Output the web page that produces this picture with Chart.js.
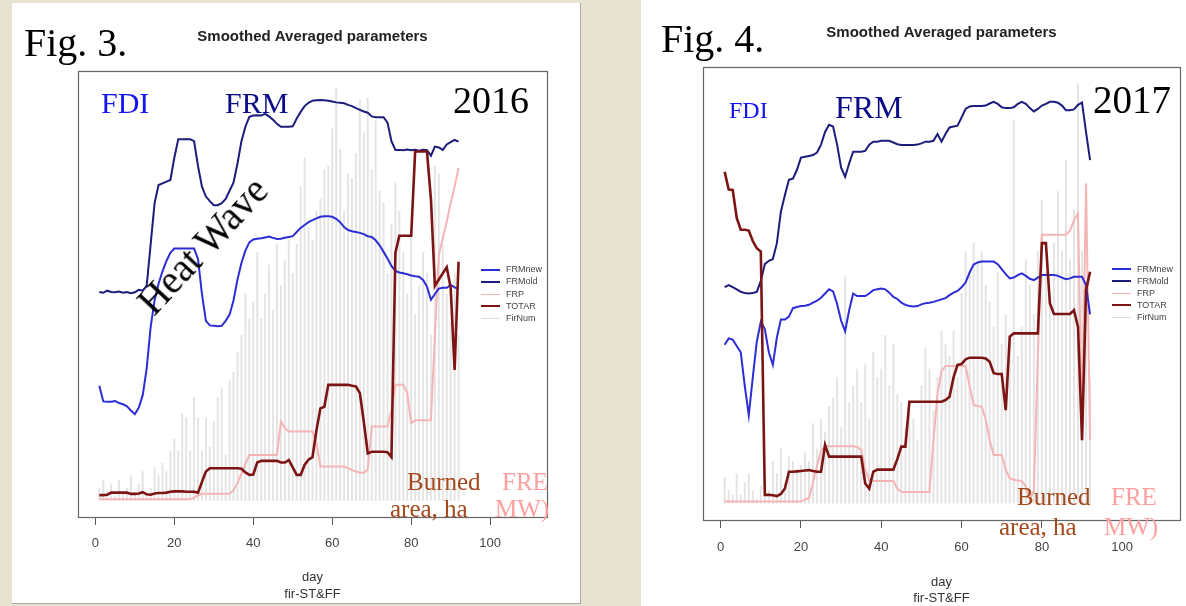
<!DOCTYPE html>
<html><head><meta charset="utf-8">
<script src="https://cdn.jsdelivr.net/npm/chart.js@4.4.1/dist/chart.umd.min.js"></script>
<style>
html,body{margin:0;padding:0;}
body{width:1186px;height:606px;background:#e6e4d0;position:relative;overflow:hidden;}
.panel{position:absolute;background:#fff;}
#p1{left:12px;top:3px;width:568px;height:600px;border-right:1px solid #aaa;border-bottom:1px solid #aaa;}
#p2{left:641px;top:0;width:545px;height:606px;}
.panel canvas{position:absolute;left:0;top:0;}
.t{position:absolute;font-family:'Liberation Serif','Times New Roman',serif;line-height:1;white-space:nowrap;}
.lg{position:absolute;font-family:'Liberation Sans',Arial,sans-serif;font-size:9px;line-height:10px;color:#444;white-space:nowrap;}
.lg span{display:inline-block;width:19px;vertical-align:middle;margin-right:6px;}
</style>
</head><body>
<div class="panel" id="p1"><canvas id="c1" width="568" height="600"></canvas></div>
<div class="panel" id="p2"><canvas id="c2" width="545" height="606"></canvas></div>

<div class="t" style="left:24px;top:23px;font-size:40px;color:#000;">Fig. 3.</div>
<div class="t" style="left:101px;top:88px;font-size:30px;color:#1414f0;">FDI</div>
<div class="t" style="left:225px;top:88px;font-size:30px;color:#0c0c88;">FRM</div>
<div class="t" style="left:453px;top:81px;font-size:38px;color:#000;">2016</div>
<div class="t" style="left:117px;top:226px;font-size:39px;color:#000;transform:rotate(-47deg);transform-origin:50% 50%;">Heat Wave</div>
<div class="t" style="left:407px;top:469px;font-size:25px;color:#a5481b;">Burned</div>
<div class="t" style="left:390px;top:496px;font-size:25px;color:#a5481b;">area, ha</div>
<div class="t" style="left:502px;top:469px;font-size:25px;color:#ffa0a0;">FRE</div>
<div class="t" style="left:495px;top:496px;font-size:25px;color:#ffa0a0;">MW)</div>

<div class="t" style="left:661px;top:19px;font-size:40px;color:#000;">Fig. 4.</div>
<div class="t" style="left:729px;top:98px;font-size:24px;color:#1414f0;">FDI</div>
<div class="t" style="left:835px;top:91px;font-size:32px;color:#0c0c88;">FRM</div>
<div class="t" style="left:1093px;top:80px;font-size:39px;color:#000;">2017</div>
<div class="t" style="left:1017px;top:484px;font-size:25px;color:#a5481b;">Burned</div>
<div class="t" style="left:999px;top:514px;font-size:25px;color:#a5481b;">area, ha</div>
<div class="t" style="left:1111px;top:484px;font-size:25px;color:#ffa0a0;">FRE</div>
<div class="t" style="left:1104px;top:514px;font-size:25px;color:#ffa0a0;">MW)</div>

<script>
// ---------- data ----------
const days = Array.from({length: 92}, (_, i) => i + 1);
const xTicks = [0, 20, 40, 60, 80, 100];
const seriesNames = ['FRMnew', 'FRMold', 'FRP', 'TOTAR', 'FirNum'];

// Fig. 3 (2016)
const frmNew2016 = [27.8,24.0,23.9,23.9,24.1,23.6,23.3,22.8,21.8,20.9,22.5,25.5,32,42,48.5,52.5,55.5,58,60,61,
 61,61,61,61,61,58.5,50,43.5,42.4,42.3,42.2,42.3,43.5,45,48.5,53.5,57.5,60.5,62.5,63.2,
 63.4,63.5,63.7,63.9,63.6,63.3,63.4,63.6,63.8,64.0,65.0,66.0,66.7,67.4,67.9,68.3,68.7,68.8,68.8,68.7,
 68.2,67.4,66.2,65.5,65.2,65.0,64.8,64.5,64.0,63.8,63.0,61.8,60.2,58.6,56.8,55.6,55.2,55.0,54.8,54.5,
 54.3,54.2,53.4,51.8,48.6,50.0,51.3,51.5,51.5,52.2,51.6,51.2];
const frmOld2016 = [50.5,50.3,50.8,50.5,50.4,50.6,50.3,50.5,50.2,50.4,51.0,50.8,52,62,72,76.4,76.8,77.2,77.6,83,
 87.5,87.5,87.5,87.5,87.0,81,76,73.6,72.5,71.5,71.5,72,73,75,77,81.6,87,90.5,92.9,93.2,
 93.3,93.2,93.6,93.0,92.2,91.2,90.5,90.5,90.5,90.6,92.5,94.1,95.5,96.3,96.8,96.9,97.0,96.9,96.8,96.6,
 96.4,96.3,96.2,95.8,95.5,95.0,94.6,94.2,93.9,93.0,92.8,92.8,92.8,91.5,87,84.9,84.9,84.8,85.0,84.8,
 84.9,84.7,84.9,84.8,83.5,85.7,85.5,84.9,86.2,86.8,87.3,86.9];
const frp2016 = [0.3,0.3,0.3,0.3,0.3,0.3,0.3,0.3,0.3,0.3,0.3,0.3,0.3,0.3,0.3,0.3,0.3,0.3,0.3,0.3,
 0.3,0.3,0.3,0.3,0.7,1.2,1.6,1.6,1.6,1.6,1.6,1.6,1.6,1.6,2.5,4.2,6.5,8.8,11.0,11.0,
 11.0,11.0,11.0,11.0,11.0,11.0,19.1,17.5,16.7,16.7,16.7,16.7,16.7,16.7,16.7,14,8.2,8.2,8.2,8.2,
 8.2,8.2,8.2,7.8,7.4,7.0,6.7,6.7,7.5,17.9,17.9,17.9,17.9,17.9,22,28,28,28,26,18.7,
 19.4,19.4,19.4,19.4,19.4,40,59.5,63.5,67.5,72,76,80.5];
const totar2016 = [1.3,1.3,1.4,1.9,1.9,1.9,1.9,1.9,1.6,1.6,1.7,2.0,1.5,1.4,1.7,1.8,1.8,1.9,2.1,2.2,
 2.2,2.2,2.1,2.1,2.1,1.9,4.5,7.0,7.8,7.8,7.8,7.8,7.8,7.8,7.8,7.8,7.7,6.8,6.2,6.3,
 9.2,9.6,9.6,9.6,9.6,9.6,9.2,9.2,9.8,8.0,6.2,6.2,8.6,9.9,10.5,17,22.3,22.7,28,28.0,
 28.0,28.0,28.0,28.0,27.8,27.6,26.0,19,11.4,11.8,11.8,11.8,11.8,11.7,10.5,60,64.1,64.1,64.1,64.1,
 84.5,84.5,84.5,84.5,73,52,53.5,55,56.5,51.5,31.6,57.8];
const firNum2016 = [3,5,2,4,1,5,2,3,6,2,4,7,2,3,8,6,9,7,12,15,
 12,21,20,12,25,20,12,20,13,19,25,27,11,29,31,36,40,50,44,48,
 60,44,50,57,46,62,52,58,63,55,62,76,83,66,63,70,73,80,81,90,
 100,85,70,79,78,84,97,89,97.5,80,92,75,72,55,67,77,70,60,50,64.8,
 45,52,60,55,40,81,79,62,50,43,55,40];

// Fig. 4 (2017)
const frmNew2017 = [37.8,39.3,39.0,37.5,36.0,28,21.0,30,38.5,43.3,41.5,36,33,39.5,43.8,43.8,44.5,46.5,46.8,47.0,
 47.1,47.3,47.8,48.3,49.0,50.0,51.0,50.5,47.5,43.5,41,46,50,49.4,49.4,49.4,50.0,50.8,51.0,51.2,
 51.0,50.2,49.2,48.7,47.8,47.3,47.0,46.9,47.0,47.4,47.7,47.8,48.0,48.3,48.6,48.9,49.6,50.2,50.6,51.5,
 52.6,55,56.9,57.4,57.6,57.6,57.6,57.6,57,55.8,54.6,53.6,53.8,54.4,54.8,54.2,53.5,53.2,53.8,54.4,
 54.4,54.4,54.4,54.2,53.8,53.4,53.6,54.0,54.0,54.0,52,45];
const frmOld2017 = [51.5,52,51.5,51,50.4,50.1,50,50.1,50.4,53,57,57.8,58.2,62,69.5,73.5,77.1,77.4,79.5,82.4,
 82.6,82.8,83.0,83.6,85.5,88.5,90.2,89.8,85.5,80,77.8,81,83.8,83.8,83.8,84,85.5,86.2,86.2,86.4,
 86.4,86.4,86.0,85.6,85.4,85.4,85.4,85.4,85.5,85.8,86.2,86.2,86.4,88,86.2,88,89.6,89.8,90,92,
 94,94.6,94.7,94.7,94.7,94.8,95.3,95.7,95.2,94.4,94.2,94.2,94.4,95.2,95.7,95.2,94.2,93.4,94.0,94.8,
 95.2,95.7,95.7,95.5,94.8,93.7,93.7,93.9,95,95.5,88.5,81.8];
const frp2017 = [0.4,0.4,0.4,0.4,0.4,0.4,0.4,0.4,0.4,0.4,0.4,0.4,0.4,0.4,0.4,0.4,0.4,0.4,0.4,0.4,
 0.9,1.2,5,9,12.5,13.6,13.6,13.6,13.6,13.6,13.6,13.6,13.6,13.4,12.7,8,5.5,5.3,5.3,5.3,
 5.3,5.3,5.3,3.5,2.7,2.7,2.7,2.7,2.7,2.7,2.7,2.7,15,26,31.5,32.7,32.7,32.7,32.7,32.7,
 32.7,28,23.4,23.2,23,20,15,11.5,11.5,11.5,8,5.9,5.6,5.4,5.3,4,0.8,3,35,64,
 64,64,64,64,64,64,65,67.5,69.1,17.4,76.3,15];
const totar2017 = [79,74.8,74.7,68,65.2,65.2,65.0,62.5,60.8,60,2.0,2.0,1.9,1.7,2.2,3.5,7.5,7.5,7.6,7.7,
 7.8,7.9,7.7,7.5,7.5,13.9,11.1,11.1,11.1,11.1,11.1,11.1,11.1,11.1,11.1,4.7,3.5,7.5,8.0,8.0,
 8.0,8.0,8.0,10.5,13.5,13.5,24.2,24.2,24.2,24.2,24.2,24.2,24.2,24.2,24.2,24.6,25.4,30,33.0,33.2,
 34.3,34.7,34.7,34.7,34.7,34.5,33.7,31,30.8,30.8,22.2,39.7,40.5,40.5,40.5,40.5,40.5,40.5,40.5,62,
 62,47.6,45.1,45.1,45.1,45.1,45.1,46,42,15,50.8,55.2];
const firNum2017 = [6,3,2,7,2,5,7,3,1,4,8,3,10,7,13,5,11,10,8,9,
 12,10,19,13,20,17,23,25,30,18,54,24,28,32,24,33,20,36,30,32,
 40,28,38,26,24,18,22,20,15,28,37,32,22,30,41,38,35,41,30,50,
 60,55,62,58,60,52,48,42,55,38,45,40,91.4,35,42,58,52,45,60,72.3,
 55,48,62,74.3,60,81.8,58,70,100,60,45,30];

// ---------- styling ----------
const colors = {FRMnew: '#2d2dd6', FRMold: '#1c1c7c', FRP: '#f5b5b5', TOTAR: '#7d1414', FirNum: 'rgba(205,205,205,0.55)'};
const widths = {FRMnew: 2, FRMold: 2, FRP: 2, TOTAR: 2.6, FirNum: 1.3};
const drawOrder = {TOTAR: 0, FRMnew: 1, FRMold: 2, FRP: 3, FirNum: 4};

const boxPlugin = {
  id: 'box',
  beforeDatasetsDraw(chart) {
    const a = chart.chartArea, ctx = chart.ctx;
    ctx.save();
    ctx.strokeStyle = '#666';
    ctx.lineWidth = 1.2;
    ctx.strokeRect(Math.round(a.left) + 0.5, Math.round(a.top) + 0.5, Math.round(a.right - a.left), Math.round(a.bottom - a.top));
    ctx.restore();
  }
};

function pts(vals) { return days.map((d, i) => ({x: d, y: vals[i]})); }

function makeChart(id, series, lay) {
  const datasets = seriesNames.map(name => {
    const isBar = name === 'FirNum';
    return {
      type: isBar ? 'bar' : 'line',
      label: name,
      data: pts(series[name]),
      borderColor: colors[name],
      backgroundColor: colors[name],
      borderWidth: isBar ? 0 : widths[name],
      barThickness: isBar ? widths[name] : undefined,
      grouped: false,
      pointRadius: 0,
      tension: 0,
      fill: false,
      order: drawOrder[name]
    };
  });
  return new Chart(document.getElementById(id), {
    type: 'line',
    data: {datasets},
    plugins: [boxPlugin],
    options: {
      responsive: false,
      animation: false,
      devicePixelRatio: 1,
      layout: {padding: {left: lay.left, right: lay.right, top: 0, bottom: 0}},
      plugins: {
        legend: {display: false},
        tooltip: {enabled: false},
        title: {
          display: true,
          text: 'Smoothed Averaged parameters',
          color: '#222',
          font: {family: "'Liberation Sans', Arial, sans-serif", size: 15, weight: 'bold'},
          padding: {top: lay.titleTop, bottom: lay.titleBottom}
        }
      },
      scales: {
        x: {
          type: 'linear',
          min: -4.4, max: 114.4,
          offset: false,
          afterBuildTicks: s => { s.ticks = xTicks.map(v => ({value: v})); },
          afterFit: s => { s.height = lay.axisH; },
          grid: {display: true, offset: false, drawOnChartArea: false, drawTicks: true, tickLength: 8, color: '#555', lineWidth: 1},
          border: {display: false},
          ticks: {color: '#444', padding: lay.tickPad, maxRotation: 0, autoSkip: false,
                  font: {family: "'Liberation Sans', Arial, sans-serif", size: 13}},
          title: {display: true, text: ['day', 'fir-ST&FF'], color: '#333',
                  font: {family: "'Liberation Sans', Arial, sans-serif", size: 13, lineHeight: lay.titleLH},
                  padding: {top: 0, bottom: 0}}
        },
        y: {type: 'linear', min: -4, max: 104, display: false}
      }
    }
  });
}

makeChart('c1', {FRMnew: frmNew2016, FRMold: frmOld2016, FRP: frp2016, TOTAR: totar2016, FirNum: firNum2016},
  {left: 66, right: 33, titleTop: 25, titleBottom: 25, axisH: 86, tickPad: 11, titleLH: '17px'});
makeChart('c2', {FRMnew: frmNew2017, FRMold: frmOld2017, FRP: frp2017, TOTAR: totar2017, FirNum: firNum2017},
  {left: 62, right: 6, titleTop: 24, titleBottom: 25, axisH: 86, tickPad: 12, titleLH: '16px'});

// HTML legends (inside the plot boxes)
function legend(x, yTop, step) {
  seriesNames.forEach((name, i) => {
    const d = document.createElement('div');
    d.className = 'lg';
    d.style.left = x + 'px';
    d.style.top = (yTop + i * step) + 'px';
    const sw = document.createElement('span');
    sw.style.borderTop = (name === 'FRP' || name === 'FirNum' ? 1.5 : 2.5) + 'px solid ' + (name === 'FirNum' ? '#ddd' : colors[name]);
    d.appendChild(sw);
    d.appendChild(document.createTextNode(name));
    document.body.appendChild(d);
  });
}
legend(481, 264, 12.25);
legend(1112, 263.5, 12);
</script>
</body></html>
